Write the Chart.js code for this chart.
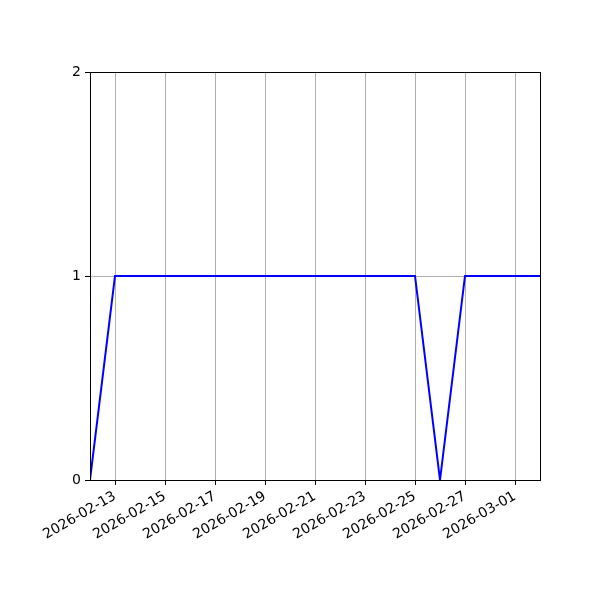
<!DOCTYPE html>
<html>
<head>
<meta charset="utf-8">
<script src="https://cdn.jsdelivr.net/npm/chart.js@4/dist/chart.umd.min.js"></script>
<style>
    html, body { margin: 0; padding: 0; background: #fff; }
    #wrap { width: 600px; height: 600px; }
</style>
</head>
<body>
<div id="wrap"><canvas id="lineChart" width="600" height="600"></canvas></div>
<script>
// dates and values
var dates = [
    "2026-02-12", "2026-02-13", "2026-02-14", "2026-02-15", "2026-02-16",
    "2026-02-17", "2026-02-18", "2026-02-19", "2026-02-20", "2026-02-21",
    "2026-02-22", "2026-02-23", "2026-02-24", "2026-02-25", "2026-02-26",
    "2026-02-27", "2026-02-28", "2026-03-01", "2026-03-02"
];
var values = [0, 1, 1, 1, 1, 1, 1, 1, 1, 1, 1, 1, 1, 1, 0, 1, 1, 1, 1];
var xTickLabels = [
    "2026-02-13", "2026-02-15", "2026-02-17", "2026-02-19", "2026-02-21",
    "2026-02-23", "2026-02-25", "2026-02-27", "2026-03-01"
];
var yTicks = [0, 1, 2];

var DAY = 86400000;
var start = Date.parse(dates[0] + "T00:00:00Z");
function dayOf(s) {
    return (Date.parse(s + "T00:00:00Z") - start) / DAY;
}
function labelOf(d) {
    return new Date(start + d * DAY).toISOString().slice(0, 10);
}

var points = dates.map(function (d, i) {
    return { x: dayOf(d), y: values[i] };
});

// draw the full box like matplotlib spines
var frame = {
    id: "frame",
    afterDraw: function (chart) {
        var a = chart.chartArea;
        var ctx = chart.ctx;
        ctx.save();
        ctx.strokeStyle = "#000";
        ctx.lineWidth = 1;
        ctx.strokeRect(Math.round(a.left) + 0.5, Math.round(a.top) + 0.5,
            Math.round(a.right - a.left), Math.round(a.bottom - a.top));
        ctx.restore();
    }
};

var font = { family: "DejaVu Sans", size: 14 };

var ctx = document.getElementById("lineChart").getContext("2d");
new Chart(ctx, {
    type: "line",
    data: {
        datasets: [{
            data: points,
            borderColor: "#0000ff",
            borderWidth: 2,
            pointRadius: 0,
            fill: false,
            tension: 0
        }]
    },
    options: {
        responsive: false,
        animation: false,
        layout: { padding: { left: 0, top: 72, right: 60, bottom: 0 } },
        plugins: {
            legend: { display: false },
            tooltip: { enabled: false }
        },
        scales: {
            x: {
                type: "linear",
                min: 0,
                max: dayOf(dates[dates.length - 1]),
                afterBuildTicks: function (scale) {
                    scale.ticks = xTickLabels.map(function (s) {
                        return { value: dayOf(s) };
                    });
                },
                afterFit: function (scale) { scale.height = 120; },
                ticks: {
                    color: "#000",
                    font: font,
                    minRotation: 30,
                    maxRotation: 30,
                    autoSkip: false,
                    padding: 3,
                    callback: function (v) { return labelOf(v); }
                },
                grid: {
                    color: "#b0b0b0",
                    tickColor: "#000",
                    tickLength: 5,
                    lineWidth: 1
                },
                border: { color: "#000", width: 1 }
            },
            y: {
                min: 0,
                max: 2,
                afterBuildTicks: function (scale) {
                    scale.ticks = yTicks.map(function (v) { return { value: v }; });
                },
                afterFit: function (scale) { scale.width = 90; },
                ticks: {
                    color: "#000",
                    font: font,
                    padding: 4
                },
                grid: {
                    color: "#b0b0b0",
                    tickColor: "#000",
                    tickLength: 5,
                    lineWidth: 1
                },
                border: { color: "#000", width: 1 }
            }
        }
    },
    plugins: [frame]
});
</script>
</body>
</html>
